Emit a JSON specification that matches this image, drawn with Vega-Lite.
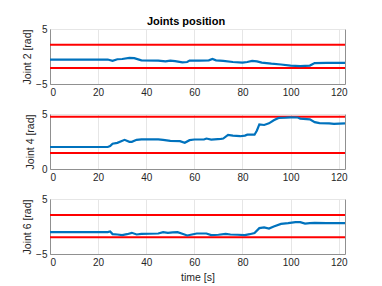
{
  "$schema": "https://vega.github.io/schema/vega-lite/v6.json",
  "padding": {"left": 22, "top": 15, "right": 5, "bottom": 2},
  "title": {"text": "Joints position", "fontSize": 11, "font": "Liberation Sans", "fontWeight": "bold", "color": "#000000", "anchor": "middle", "offset": -3},
  "config": {
    "font": "Liberation Sans",
    "view": {"stroke": "#909090", "strokeWidth": 1},
    "axis": {"labelFont": "Liberation Sans", "labelFontSize": 10, "labelColor": "#262626", "titleFont": "Liberation Sans", "titleFontSize": 10.5, "titleFontWeight": "normal", "titleColor": "#262626", "domainColor": "#909090", "ticks": false, "gridColor": "#e6e6e6", "labelPadding": 3},
    "concat": {"spacing": 10}
  },
  "datasets": {
    "joints": [
      {"joint": "J2", "t": 0, "q": -0.55}, {"joint": "J2", "t": 24, "q": -0.55}, {"joint": "J2", "t": 26, "q": -0.8}, {"joint": "J2", "t": 28, "q": -0.5},
      {"joint": "J2", "t": 30, "q": -0.45}, {"joint": "J2", "t": 33, "q": -0.25}, {"joint": "J2", "t": 35, "q": -0.3}, {"joint": "J2", "t": 38, "q": -0.7},
      {"joint": "J2", "t": 45, "q": -0.75}, {"joint": "J2", "t": 48, "q": -0.9}, {"joint": "J2", "t": 50, "q": -0.75}, {"joint": "J2", "t": 52, "q": -0.85},
      {"joint": "J2", "t": 55, "q": -1.05}, {"joint": "J2", "t": 57, "q": -1.0}, {"joint": "J2", "t": 58, "q": -0.75}, {"joint": "J2", "t": 62, "q": -0.75},
      {"joint": "J2", "t": 66, "q": -0.7}, {"joint": "J2", "t": 67.5, "q": -0.45}, {"joint": "J2", "t": 69, "q": -0.7}, {"joint": "J2", "t": 72, "q": -0.8},
      {"joint": "J2", "t": 76, "q": -1.0}, {"joint": "J2", "t": 80, "q": -1.1}, {"joint": "J2", "t": 82, "q": -1.0}, {"joint": "J2", "t": 84, "q": -0.8},
      {"joint": "J2", "t": 86, "q": -0.9}, {"joint": "J2", "t": 88, "q": -1.1}, {"joint": "J2", "t": 92, "q": -1.3}, {"joint": "J2", "t": 96, "q": -1.45},
      {"joint": "J2", "t": 100, "q": -1.65}, {"joint": "J2", "t": 104, "q": -1.75}, {"joint": "J2", "t": 108, "q": -1.65}, {"joint": "J2", "t": 110, "q": -1.2},
      {"joint": "J2", "t": 115, "q": -1.15}, {"joint": "J2", "t": 122.6, "q": -1.15},
      {"joint": "J4", "t": 0, "q": 2.0}, {"joint": "J4", "t": 24, "q": 2.0}, {"joint": "J4", "t": 25, "q": 2.08}, {"joint": "J4", "t": 26, "q": 2.3},
      {"joint": "J4", "t": 28, "q": 2.38}, {"joint": "J4", "t": 31, "q": 2.65}, {"joint": "J4", "t": 33, "q": 2.47}, {"joint": "J4", "t": 34, "q": 2.47},
      {"joint": "J4", "t": 36, "q": 2.65}, {"joint": "J4", "t": 38, "q": 2.7}, {"joint": "J4", "t": 45, "q": 2.7}, {"joint": "J4", "t": 47, "q": 2.65},
      {"joint": "J4", "t": 50, "q": 2.56}, {"joint": "J4", "t": 54, "q": 2.53}, {"joint": "J4", "t": 56, "q": 2.38}, {"joint": "J4", "t": 58, "q": 2.62},
      {"joint": "J4", "t": 60, "q": 2.68}, {"joint": "J4", "t": 64, "q": 2.68}, {"joint": "J4", "t": 65, "q": 2.77}, {"joint": "J4", "t": 67, "q": 2.68},
      {"joint": "J4", "t": 71, "q": 2.74}, {"joint": "J4", "t": 72, "q": 2.77}, {"joint": "J4", "t": 74, "q": 3.1}, {"joint": "J4", "t": 76, "q": 3.04},
      {"joint": "J4", "t": 79, "q": 2.98}, {"joint": "J4", "t": 81, "q": 3.04}, {"joint": "J4", "t": 82, "q": 3.12}, {"joint": "J4", "t": 85, "q": 3.12},
      {"joint": "J4", "t": 86, "q": 3.5}, {"joint": "J4", "t": 87, "q": 4.05}, {"joint": "J4", "t": 89, "q": 4.0}, {"joint": "J4", "t": 91, "q": 4.15},
      {"joint": "J4", "t": 93, "q": 4.43}, {"joint": "J4", "t": 95, "q": 4.64}, {"joint": "J4", "t": 98, "q": 4.67}, {"joint": "J4", "t": 100, "q": 4.7},
      {"joint": "J4", "t": 103, "q": 4.68}, {"joint": "J4", "t": 104, "q": 4.58}, {"joint": "J4", "t": 108, "q": 4.52}, {"joint": "J4", "t": 110, "q": 4.26},
      {"joint": "J4", "t": 112, "q": 4.17}, {"joint": "J4", "t": 116, "q": 4.14}, {"joint": "J4", "t": 118, "q": 4.1}, {"joint": "J4", "t": 122.6, "q": 4.15},
      {"joint": "J6", "t": 0, "q": -1.02}, {"joint": "J6", "t": 24, "q": -1.02}, {"joint": "J6", "t": 25, "q": -0.9}, {"joint": "J6", "t": 26, "q": -1.38},
      {"joint": "J6", "t": 28, "q": -1.45}, {"joint": "J6", "t": 30, "q": -1.57}, {"joint": "J6", "t": 32, "q": -1.4}, {"joint": "J6", "t": 34, "q": -1.15},
      {"joint": "J6", "t": 36, "q": -1.45}, {"joint": "J6", "t": 38, "q": -1.33}, {"joint": "J6", "t": 45, "q": -1.27}, {"joint": "J6", "t": 47, "q": -1.02},
      {"joint": "J6", "t": 49, "q": -1.15}, {"joint": "J6", "t": 51, "q": -1.08}, {"joint": "J6", "t": 53, "q": -1.02}, {"joint": "J6", "t": 55, "q": -1.33},
      {"joint": "J6", "t": 57, "q": -1.63}, {"joint": "J6", "t": 59, "q": -1.45}, {"joint": "J6", "t": 61, "q": -1.27}, {"joint": "J6", "t": 65, "q": -1.27},
      {"joint": "J6", "t": 67, "q": -1.57}, {"joint": "J6", "t": 70, "q": -1.5}, {"joint": "J6", "t": 73, "q": -1.33}, {"joint": "J6", "t": 75, "q": -1.45},
      {"joint": "J6", "t": 78, "q": -1.5}, {"joint": "J6", "t": 81, "q": -1.57}, {"joint": "J6", "t": 83, "q": -1.4}, {"joint": "J6", "t": 85, "q": -1.2},
      {"joint": "J6", "t": 87, "q": -0.3}, {"joint": "J6", "t": 89, "q": -0.18}, {"joint": "J6", "t": 91, "q": -0.36}, {"joint": "J6", "t": 93, "q": 0.0},
      {"joint": "J6", "t": 96, "q": 0.48}, {"joint": "J6", "t": 99, "q": 0.6}, {"joint": "J6", "t": 102, "q": 0.78}, {"joint": "J6", "t": 104, "q": 0.78},
      {"joint": "J6", "t": 106, "q": 0.54}, {"joint": "J6", "t": 108, "q": 0.6}, {"joint": "J6", "t": 110, "q": 0.66}, {"joint": "J6", "t": 115, "q": 0.6},
      {"joint": "J6", "t": 122.6, "q": 0.6}
    ],
    "limits": [
      {"joint": "J2", "limit": 2.12}, {"joint": "J2", "limit": -2.08},
      {"joint": "J4", "limit": 4.75}, {"joint": "J4", "limit": 1.45},
      {"joint": "J6", "limit": 2.07}, {"joint": "J6", "limit": -1.95}
    ]
  },
  "vconcat": [
    {
      "width": 295, "height": 55,
      "layer": [
        {"data": {"name": "limits"}, "transform": [{"filter": "datum.joint == 'J2'"}], "mark": {"type": "rule", "color": "#ff0000", "strokeWidth": 2},
         "encoding": {"y": {"field": "limit", "type": "quantitative", "scale": {"domain": [-5, 5], "nice": false}, "axis": {"values": [-5, 0, 5], "title": "Joint 2 [rad]", "titlePadding": 3}}}},
        {"data": {"name": "joints"}, "transform": [{"filter": "datum.joint == 'J2'"}], "mark": {"type": "line", "color": "#0072BD", "strokeWidth": 2.2},
         "encoding": {"x": {"field": "t", "type": "quantitative", "scale": {"domain": [0, 122.6], "nice": false}, "axis": {"values": [0, 20, 40, 60, 80, 100, 120], "title": null}},
                      "y": {"field": "q", "type": "quantitative"}}}
      ]
    },
    {
      "width": 295, "height": 55,
      "layer": [
        {"data": {"name": "limits"}, "transform": [{"filter": "datum.joint == 'J4'"}], "mark": {"type": "rule", "color": "#ff0000", "strokeWidth": 2},
         "encoding": {"y": {"field": "limit", "type": "quantitative", "scale": {"domain": [0, 5], "nice": false}, "axis": {"values": [0, 5], "title": "Joint 4 [rad]", "titlePadding": 6}}}},
        {"data": {"name": "joints"}, "transform": [{"filter": "datum.joint == 'J4'"}], "mark": {"type": "line", "color": "#0072BD", "strokeWidth": 2.2},
         "encoding": {"x": {"field": "t", "type": "quantitative", "scale": {"domain": [0, 122.6], "nice": false}, "axis": {"values": [0, 20, 40, 60, 80, 100, 120], "title": null}},
                      "y": {"field": "q", "type": "quantitative"}}}
      ]
    },
    {
      "width": 295, "height": 55,
      "layer": [
        {"data": {"name": "limits"}, "transform": [{"filter": "datum.joint == 'J6'"}], "mark": {"type": "rule", "color": "#ff0000", "strokeWidth": 2},
         "encoding": {"y": {"field": "limit", "type": "quantitative", "scale": {"domain": [-5, 5], "nice": false}, "axis": {"values": [-5, 0, 5], "title": "Joint 6 [rad]", "titlePadding": 3}}}},
        {"data": {"name": "joints"}, "transform": [{"filter": "datum.joint == 'J6'"}], "mark": {"type": "line", "color": "#0072BD", "strokeWidth": 2.2},
         "encoding": {"x": {"field": "t", "type": "quantitative", "scale": {"domain": [0, 122.6], "nice": false}, "axis": {"values": [0, 20, 40, 60, 80, 100, 120], "title": "time [s]", "titlePadding": 5}},
                      "y": {"field": "q", "type": "quantitative"}}}
      ]
    }
  ]
}
